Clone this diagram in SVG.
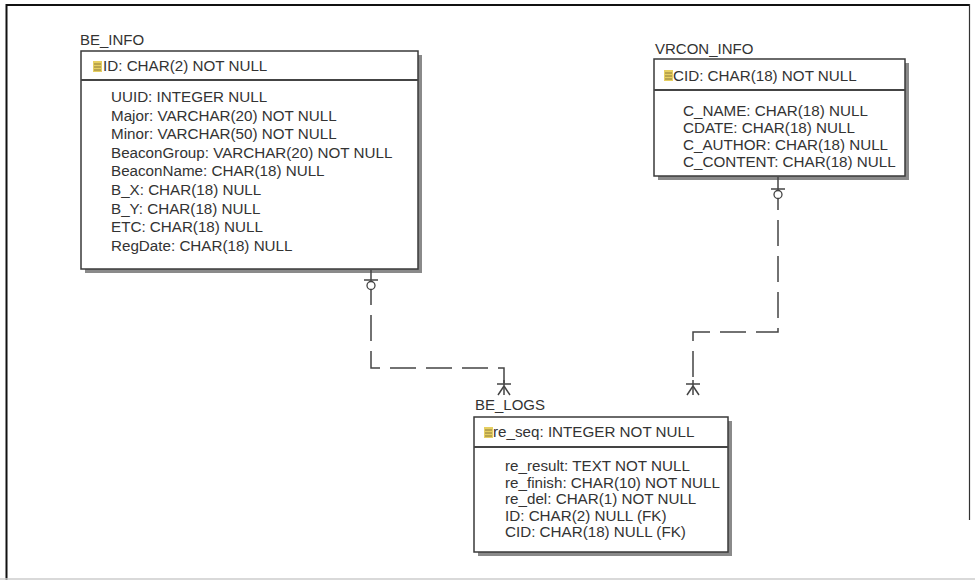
<svg xmlns="http://www.w3.org/2000/svg" width="975" height="580" viewBox="0 0 975 580">
<style>
 text { font-family: "Liberation Sans", Arial, sans-serif; font-size: 15.2px; fill: #333; }
 .title { font-size: 15px; }
 .box { fill: #fff; stroke: #3a3a3a; stroke-width: 1.5; }
 .shadow { fill: #8a8a8a; }
 .sep { stroke: #444; stroke-width: 2; }
 .rel { fill: none; stroke: #444; stroke-width: 1.5; }
 .dash { stroke-dasharray: 26 10; stroke-dashoffset: 26; }
 .sym { fill: #fff; stroke: #444; stroke-width: 1.3; }
</style>
<defs>
 <g id="key">
  <rect x="0" y="1" width="9" height="11" fill="#e6cf62"/>
  <path d="M1 4h7M1 7h7M1 10h7" stroke="#8c7b3a" stroke-width="1"/>
 </g>
</defs>
<rect x="0" y="0" width="975" height="580" fill="#fff"/>
<g id="frame">
 <path d="M6 5H970" stroke="#111" stroke-width="2"/>
 <path d="M6.5 4V580" stroke="#111" stroke-width="2"/>
 <path d="M969.5 4V520" stroke="#333" stroke-width="1.2"/>
 <path d="M0 579H975" stroke="#ccc" stroke-width="1.5"/>
</g>
<g id="BE_INFO">
 <text class="title" x="80" y="45">BE_INFO</text>
 <rect class="shadow" x="85" y="55" width="337" height="218"/>
 <rect class="box" x="81" y="51" width="337" height="218"/>
 <line class="sep" x1="81" y1="80" x2="418" y2="80"/>
 <use href="#key" x="93" y="60"/>
 <text x="103" y="71">ID: CHAR(2) NOT NULL</text>
 <text x="111" y="102">UUID: INTEGER NULL</text>
 <text x="111" y="120.6">Major: VARCHAR(20) NOT NULL</text>
 <text x="111" y="139.2">Minor: VARCHAR(50) NOT NULL</text>
 <text x="111" y="157.8">BeaconGroup: VARCHAR(20) NOT NULL</text>
 <text x="111" y="176.4">BeaconName: CHAR(18) NULL</text>
 <text x="111" y="195">B_X: CHAR(18) NULL</text>
 <text x="111" y="213.6">B_Y: CHAR(18) NULL</text>
 <text x="111" y="232.2">ETC: CHAR(18) NULL</text>
 <text x="111" y="250.8">RegDate: CHAR(18) NULL</text>
</g>
<g id="VRCON_INFO">
 <text class="title" x="655" y="54">VRCON_INFO</text>
 <rect class="shadow" x="658" y="63" width="251" height="117"/>
 <rect class="box" x="654" y="59" width="251" height="117"/>
 <line class="sep" x1="654" y1="90" x2="905" y2="90"/>
 <use href="#key" x="664" y="69"/>
 <text x="673" y="81">CID: CHAR(18) NOT NULL</text>
 <text x="683" y="116">C_NAME: CHAR(18) NULL</text>
 <text x="683" y="133">CDATE: CHAR(18) NULL</text>
 <text x="683" y="150">C_AUTHOR: CHAR(18) NULL</text>
 <text x="683" y="167">C_CONTENT: CHAR(18) NULL</text>
</g>
<g id="BE_LOGS">
 <text class="title" x="475" y="410">BE_LOGS</text>
 <rect class="shadow" x="478" y="421" width="254" height="135"/>
 <rect class="box" x="474" y="417" width="254" height="135"/>
 <line class="sep" x1="474" y1="447" x2="728" y2="447"/>
 <use href="#key" x="484" y="426"/>
 <text x="493" y="437">re_seq: INTEGER NOT NULL</text>
 <text x="505" y="471">re_result: TEXT NOT NULL</text>
 <text x="505" y="487.5">re_finish: CHAR(10) NOT NULL</text>
 <text x="505" y="504">re_del: CHAR(1) NOT NULL</text>
 <text x="505" y="520.5">ID: CHAR(2) NULL (FK)</text>
 <text x="505" y="537">CID: CHAR(18) NULL (FK)</text>
</g>
<g id="connectors">
 <g id="rel-beinfo-belogs">
  <path class="rel" d="M371 270V305"/>
  <path class="rel dash" d="M371 305V368H504V383"/>
  <path class="rel" d="M504 380V395"/>
  <path class="rel" d="M364 280H378"/>
  <circle class="sym" cx="371" cy="285.5" r="4"/>
  <path class="rel" d="M497 384H511M504 386L498 395M504 386L510 395"/>
 </g>
 <g id="rel-vrcon-belogs">
  <path class="rel" d="M778 177V210"/>
  <path class="rel dash" d="M778 210V332H693V383"/>
  <path class="rel" d="M693 380V395"/>
  <path class="rel" d="M771 189H785"/>
  <circle class="sym" cx="778" cy="194.5" r="4"/>
  <path class="rel" d="M686 384H700M693 386L687 395M693 386L699 395"/>
 </g>
</g>
</svg>
